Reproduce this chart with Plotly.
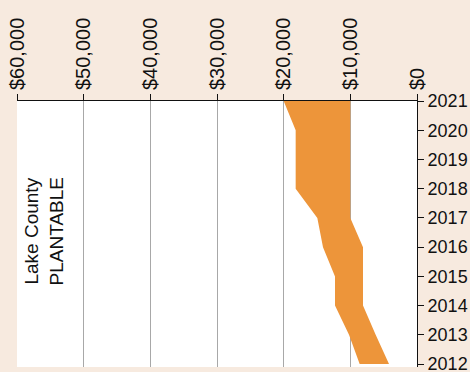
import plotly.graph_objects as go

years = [2012, 2013, 2014, 2015, 2016, 2017, 2018, 2019, 2020, 2021]
upper = [8600, 10200, 12300, 12300, 14100, 14950, 18200, 18200, 18200, 20000]
lower = [4200, 6200, 8100, 8100, 8100, 10000, 10000, 10000, 10000, 10000]
x_ticks = [60000, 50000, 40000, 30000, 20000, 10000, 0]
x_tick_labels = ["$60,000", "$50,000", "$40,000", "$30,000", "$20,000", "$10,000", "$0"]
label_text = "Lake County<br>PLANTABLE"

orange = "#ED953A"
bg = "#F7EADF"

fig = go.Figure()
fig.add_trace(go.Scatter(
    x=upper + lower[::-1],
    y=years + years[::-1],
    fill="toself",
    fillcolor=orange,
    mode="lines",
    line=dict(width=0, color=orange),
    hoverinfo="skip",
    showlegend=False,
))

fig.add_annotation(
    x=55900, y=2016.55, xref="x", yref="y",
    text=label_text, textangle=-90, showarrow=False,
    font=dict(family="Liberation Sans, Arial, sans-serif", size=19, color="#111111"),
    align="center",
)

fig.update_layout(
    width=470, height=372,
    margin=dict(l=17, r=53, t=101, b=5),
    paper_bgcolor=bg,
    plot_bgcolor="white",
    showlegend=False,
    xaxis=dict(
        range=[60000, 0], side="top", automargin=False,
        tickvals=x_ticks, ticktext=x_tick_labels, tickangle=-90,
        ticks="outside", ticklen=6, tickcolor="#111111", tickwidth=1,
        showline=True, linecolor="#111111", linewidth=1,
        showgrid=True, gridcolor="#A8A8A8", gridwidth=1,
        zeroline=False, ticklabeloverflow="allow",
        tickfont=dict(family="Liberation Sans, Arial, sans-serif", size=20, color="#111111"),
    ),
    yaxis=dict(
        range=[2011.9, 2021], side="right", automargin=False,
        tickvals=years, ticks="outside", ticklen=6, tickcolor="#111111",
        showline=True, linecolor="#111111", linewidth=1,
        showgrid=False, zeroline=False, ticklabeloverflow="allow",
        tickfont=dict(family="Liberation Sans, Arial, sans-serif", size=18, color="#111111"),
    ),
)

fig.write_html("out.html")
